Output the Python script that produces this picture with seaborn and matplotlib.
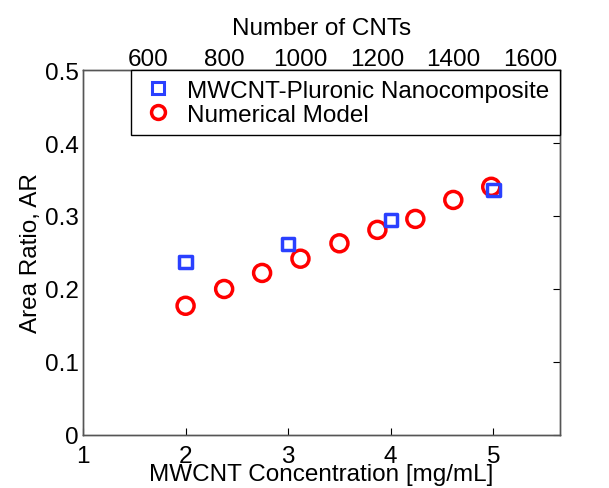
import matplotlib
matplotlib.use("Agg")
import matplotlib.pyplot as plt
import seaborn as sns
import pandas as pd
from matplotlib.ticker import FuncFormatter
from matplotlib.lines import Line2D

# Data
exp_conc = [2.0, 3.0, 4.0, 5.0]
exp_ar = [0.237, 0.262, 0.2945, 0.336]
model_conc = [2.0, 2.376, 2.746, 3.12, 3.50, 3.87, 4.24, 4.61, 4.98]
model_ar = [0.177, 0.200, 0.222, 0.2415, 0.2626, 0.281, 0.296, 0.322, 0.340]
x_ticks = [1, 2, 3, 4, 5]
y_ticks = [0, 0.1, 0.2, 0.3, 0.4, 0.5]
top_ticks = [600, 800, 1000, 1200, 1400, 1600]
labels = ["MWCNT-Pluronic Nanocomposite", "Numerical Model"]

sns.set_style("white")
plt.rcParams["font.family"] = ["Liberation Sans", "DejaVu Sans"]
plt.rcParams["font.size"] = 17.5
plt.rcParams["text.color"] = "black"
plt.rcParams["axes.labelcolor"] = "black"
plt.rcParams["xtick.color"] = "black"
plt.rcParams["ytick.color"] = "black"

FS = 17.5
fig = plt.figure(figsize=(6.09, 4.89), dpi=100)
ax = fig.add_axes([0.1363, 0.1084, 0.7832, 0.7464])

blue = "#2a40ff"
red = "#ff0000"

df_exp = pd.DataFrame({"conc": exp_conc, "ar": exp_ar})
df_mod = pd.DataFrame({"conc": model_conc, "ar": model_ar})

sns.scatterplot(data=df_mod, x="conc", y="ar", ax=ax, marker="o", s=150,
                facecolors="none", edgecolor=red, linewidth=2.5, zorder=3)
sns.scatterplot(data=df_exp, x="conc", y="ar", ax=ax, marker="s", s=80,
                facecolors="none", edgecolor=blue, linewidth=2.5, zorder=4)

ax.set_xlim(1, 5.65)
ax.set_ylim(0, 0.5)
ax.set_xticks(x_ticks)
ax.set_yticks(y_ticks)
ax.yaxis.set_major_formatter(FuncFormatter(lambda v, p: f"{v:g}"))
ax.set_xlabel("MWCNT Concentration [mg/mL]", fontsize=FS, labelpad=-3)
ax.set_ylabel("Area Ratio, AR", fontsize=FS, labelpad=2)
ax.tick_params(axis="both", direction="in", length=5, width=0.8,
               labelsize=FS, right=True)
ax.tick_params(axis="x", pad=7)
ax.tick_params(axis="y", pad=3)
for sp in ax.spines.values():
    sp.set_color("#555555")
    sp.set_linewidth(1.0)

ax2 = ax.twiny()
ax2.set_xlim(429.8, 1678.5)
ax2.set_xticks(top_ticks)
ax2.tick_params(axis="x", direction="in", length=5, width=0.8,
                labelsize=FS, pad=0)
ax2.set_xlabel("Number of CNTs", fontsize=FS, labelpad=10)
for sp in ax2.spines.values():
    sp.set_color("#555555")
    sp.set_linewidth(1.0)

handles = [
    Line2D([], [], linestyle="none", marker="s", markersize=8, markerfacecolor="none",
           markeredgecolor=blue, markeredgewidth=2.2),
    Line2D([], [], linestyle="none", marker="o", markersize=10, markerfacecolor="none",
           markeredgecolor=red, markeredgewidth=2.5),
]
leg = ax2.legend(handles, labels, loc="upper left",
                 bbox_to_anchor=(0.1006, 0.822, 0.8994, 0.178), mode="expand",
                 borderaxespad=0, frameon=True, fancybox=False, framealpha=1,
                 edgecolor="black", fontsize=FS, handletextpad=0.5,
                 handlelength=1.4, labelspacing=0.08, borderpad=0.4)
leg.get_frame().set_linewidth(1.0)

fig.savefig("out.png", dpi=100)
